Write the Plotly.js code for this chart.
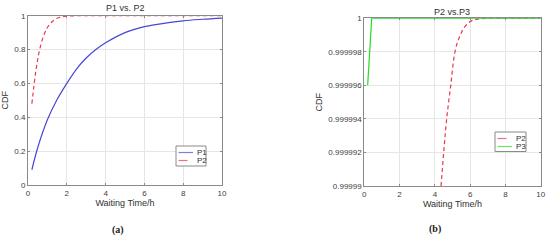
<!DOCTYPE html>
<html><head><meta charset="utf-8">
<script src="https://cdn.plot.ly/plotly-3.0.1.min.js"></script>
<style>html,body{margin:0;padding:0;background:#fff;}#chart{width:550px;height:240px;}</style>
</head><body><div id="chart"></div>
<script>
// Panel (a): P1 vs. P2
const xP1 = [0.2, 0.5, 1, 1.5, 2, 2.5, 3, 3.5, 4, 5, 6, 7, 8, 9, 10];
const yP1 = [0.09, 0.22, 0.385, 0.505, 0.60, 0.685, 0.75, 0.80, 0.84, 0.90, 0.935, 0.955, 0.97, 0.979, 0.986];
const xP2a = [0.2, 0.3, 0.4, 0.5, 0.6, 0.8, 1.0, 1.2, 1.5, 2, 3, 10];
const yP2a = [0.48, 0.58, 0.67, 0.74, 0.80, 0.88, 0.93, 0.96, 0.985, 0.997, 1, 1];
// Panel (b): P2 vs.P3
const xP2b = [4.35, 4.5, 4.67, 4.9, 5.14, 5.4, 5.7, 6.1, 6.5, 7, 10];
const yP2b = [0.99999, 0.999992, 0.999994, 0.999996, 0.999998, 0.9999989, 0.9999995, 0.99999986, 0.99999996, 1, 1];
const xP3 = [0.19, 0.42, 10];
const yP3 = [0.999996, 1, 1];
const xTicks = [0, 2, 4, 6, 8, 10];
const yTicksA = [0, 0.2, 0.4, 0.6, 0.8, 1];
const yTicksAText = ['0', '0.2', '0.4', '0.6', '0.8', '1'];
const yTicksB = [0.99999, 0.999992, 0.999994, 0.999996, 0.999998, 1];
const yTicksBText = ['0.99999', '0.999992', '0.999994', '0.999996', '0.999998', '1'];
const legendA = ['P1', 'P2'];
const legendB = ['P2', 'P3'];

const FONT = 'Liberation Sans, Arial, sans-serif';
const tickFont = {family: FONT, size: 8, color: '#404040'};
const titleFont = {family: FONT, size: 9, color: '#303030'};
const BLUE = '#4747d6', RED = '#e8384f', GREEN = '#22dd22';
const DASH = '4px,3px';

function axisBase(extra) {
  return Object.assign({
    showgrid: true, gridcolor: '#e6e6e6', gridwidth: 1,
    showline: true, linecolor: '#8a8a8a', linewidth: 1, mirror: 'ticks',
    ticks: 'inside', ticklen: 2, tickcolor: '#8a8a8a',
    zeroline: false, tickfont: tickFont, fixedrange: true
  }, extra);
}

const traces = [
  {x: xP1, y: yP1, name: legendA[0], mode: 'lines', line: {color: BLUE, width: 1.2, shape: 'spline'}, xaxis: 'x', yaxis: 'y'},
  {x: xP2a, y: yP2a, name: legendA[1], mode: 'lines', line: {color: RED, width: 1.2, dash: DASH, shape: 'spline'}, xaxis: 'x', yaxis: 'y'},
  {x: xP2b, y: yP2b, name: legendB[0], mode: 'lines', line: {color: RED, width: 1.2, dash: DASH, shape: 'spline'}, xaxis: 'x2', yaxis: 'y2'},
  {x: xP3, y: yP3, name: legendB[1], mode: 'lines', line: {color: GREEN, width: 1.2}, xaxis: 'x2', yaxis: 'y2'}
];

// Hand-made compact legends (MATLAB style)
const px = v => v / 550, py = v => 1 - v / 240;
function legendBox(x0, y0, x1, y1, items) {
  const shapes = [{type: 'rect', xref: 'paper', yref: 'paper', x0: px(x0), x1: px(x1), y0: py(y0), y1: py(y1),
    line: {color: '#8a8a8a', width: 1}, fillcolor: '#fff', layer: 'above'}];
  const anns = [];
  items.forEach((it, i) => {
    const yy = y0 + 6.5 + i * 8;
    shapes.push({type: 'line', xref: 'paper', yref: 'paper', x0: px(x0 + 2.5), x1: px(x0 + 17), y0: py(yy), y1: py(yy),
      line: {color: it.color, width: 1.2, dash: it.dash || 'solid'}, opacity: 0.7, layer: 'above'});
    anns.push({text: it.name, xref: 'paper', yref: 'paper', x: px(x0 + 18.5), y: py(yy), xanchor: 'left', yanchor: 'middle',
      showarrow: false, font: {family: FONT, size: 8, color: '#303030'}});
  });
  return {shapes, anns};
}
const lgA = legendBox(176, 146, 206, 166, [{name: legendA[0], color: BLUE}, {name: legendA[1], color: RED, dash: 'dash'}]);
const lgB = legendBox(495, 132, 526, 151.5, [{name: legendB[0], color: RED, dash: 'dash'}, {name: legendB[1], color: GREEN}]);

const layout = {
  width: 550, height: 240,
  margin: {l: 0, r: 0, t: 0, b: 0},
  paper_bgcolor: '#fff', plot_bgcolor: '#fff',
  showlegend: false,
  xaxis: axisBase({domain: [28/550, 222/550], range: [0, 10], tickvals: xTicks, anchor: 'y',
    title: {text: 'Waiting Time/h', font: titleFont, standoff: 2}}),
  yaxis: axisBase({domain: [1 - 185/240, 1 - 15.7/240], range: [0, 1], tickvals: yTicksA, ticktext: yTicksAText, anchor: 'x',
    title: {text: 'CDF', font: titleFont, standoff: 4}}),
  xaxis2: axisBase({domain: [364.3/550, 540.7/550], range: [0, 10], tickvals: xTicks, anchor: 'y2',
    title: {text: 'Waiting Time/h', font: titleFont, standoff: 2}}),
  yaxis2: axisBase({domain: [1 - 186/240, 1 - 18.3/240], range: [0.99999, 1], tickvals: yTicksB, ticktext: yTicksBText, anchor: 'x2',
    title: {text: 'CDF', font: titleFont, standoff: 4}}),
  shapes: lgA.shapes.concat(lgB.shapes),
  annotations: [
    {text: 'P1 vs. P2', x: 125/550, y: 1 - 8/240, xref: 'paper', yref: 'paper', showarrow: false, font: titleFont, xanchor: 'center', yanchor: 'middle'},
    {text: 'P2 vs.P3', x: 452/550, y: 1 - 12/240, xref: 'paper', yref: 'paper', showarrow: false, font: titleFont, xanchor: 'center', yanchor: 'middle'},
    {text: '<b>(a)</b>', x: 118/550, y: 1 - 230/240, xref: 'paper', yref: 'paper', showarrow: false, font: {family: 'Liberation Serif, Times New Roman, serif', size: 10, color: '#222'}, xanchor: 'center', yanchor: 'middle'},
    {text: '<b>(b)</b>', x: 435/550, y: 1 - 229/240, xref: 'paper', yref: 'paper', showarrow: false, font: {family: 'Liberation Serif, Times New Roman, serif', size: 10, color: '#222'}, xanchor: 'center', yanchor: 'middle'}
  ].concat(lgA.anns, lgB.anns)
};

Plotly.newPlot('chart', traces, layout, {staticPlot: true, displayModeBar: false});
</script>
</body></html>
